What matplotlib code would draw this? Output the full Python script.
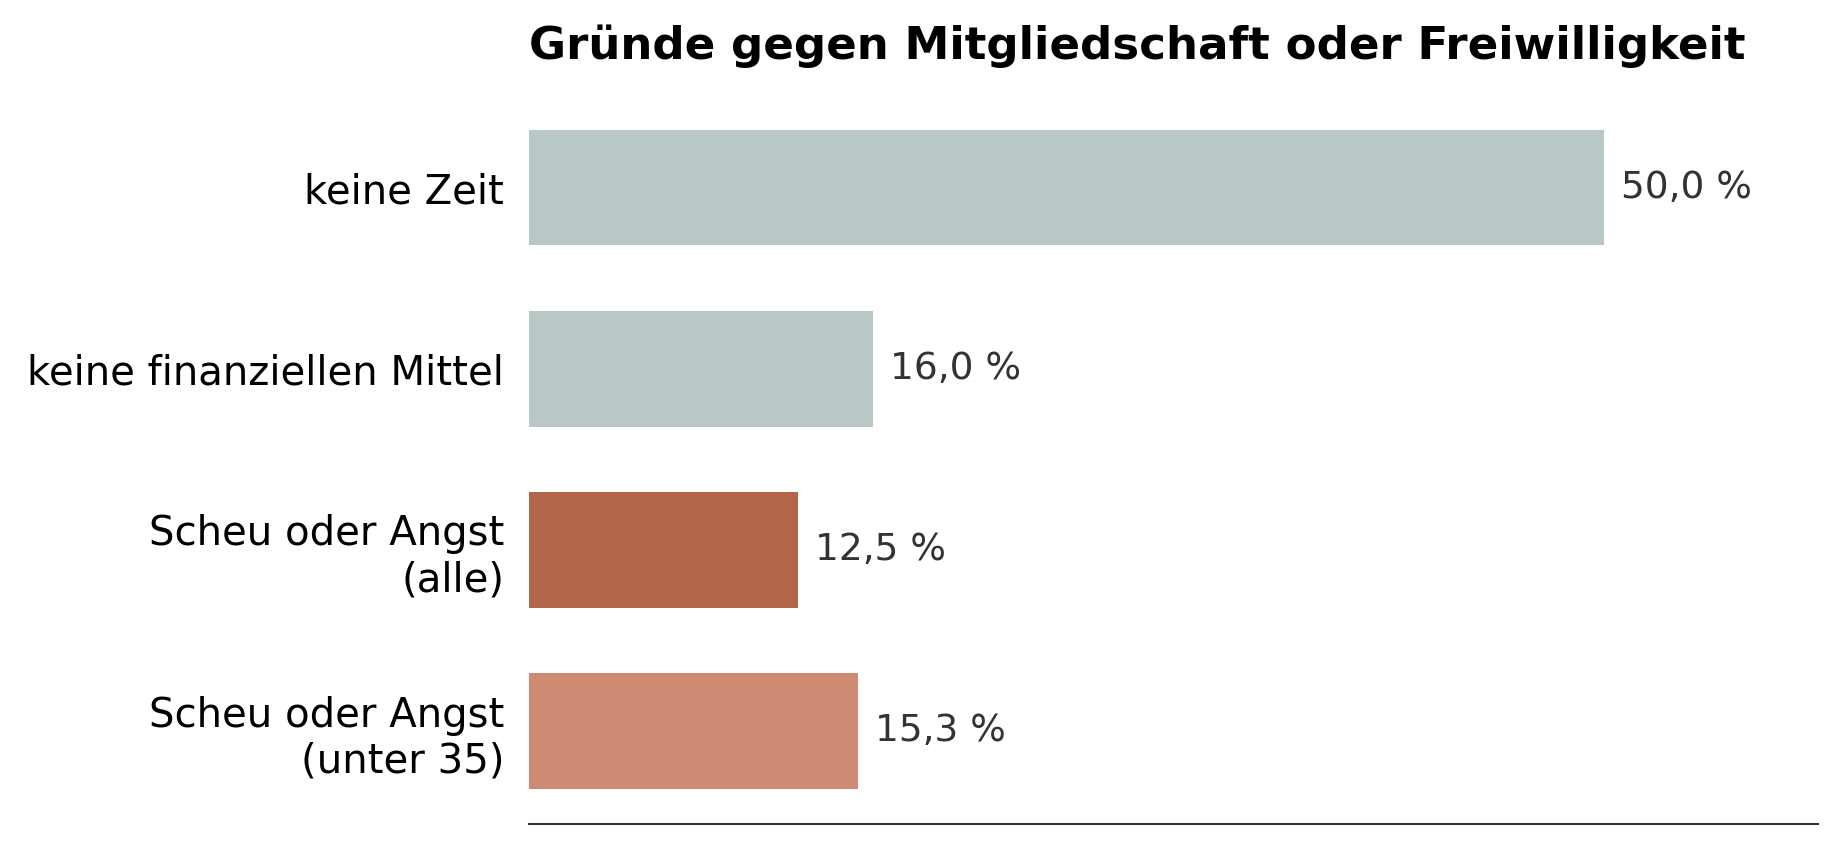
import matplotlib
matplotlib.use("Agg")
import matplotlib.pyplot as plt

categories = ["keine Zeit", "keine finanziellen Mittel", "Scheu oder Angst\n(alle)", "Scheu oder Angst\n(unter 35)"]
values = [50.0, 16.0, 12.5, 15.3]
colors = ["#b9c8c7", "#b9c8c7", "#b3654a", "#cf8a74"]

fig = plt.figure(figsize=(18.34, 8.49), dpi=100)
ax = fig.add_axes([0.2885, 0.03, 0.703, 0.858])
y = list(range(len(categories)))
ax.barh(y, values, height=0.64, color=colors)
ax.set_ylim(len(categories) - 0.49, -0.51)
ax.set_xlim(0, 60)
ax.set_yticks(y)
ax.set_yticklabels(categories, fontsize=29)
ax.tick_params(axis="y", length=0, pad=18)
ax.set_xticks([])
for s in ["top", "right", "left"]:
    ax.spines[s].set_visible(False)
ax.spines["bottom"].set_color("#333333")
ax.spines["bottom"].set_linewidth(1.5)
for yi, v in zip(y, values):
    ax.text(v + 0.8, yi, f"{v:.1f} %".replace(".", ","), va="center", ha="left", fontsize=27, color="#333333")
fig.text(0.2885, 0.945, "Gründe gegen Mitgliedschaft oder Freiwilligkeit", fontsize=32.5, fontweight="bold", ha="left", va="center")
fig.savefig("out.png", dpi=100)
